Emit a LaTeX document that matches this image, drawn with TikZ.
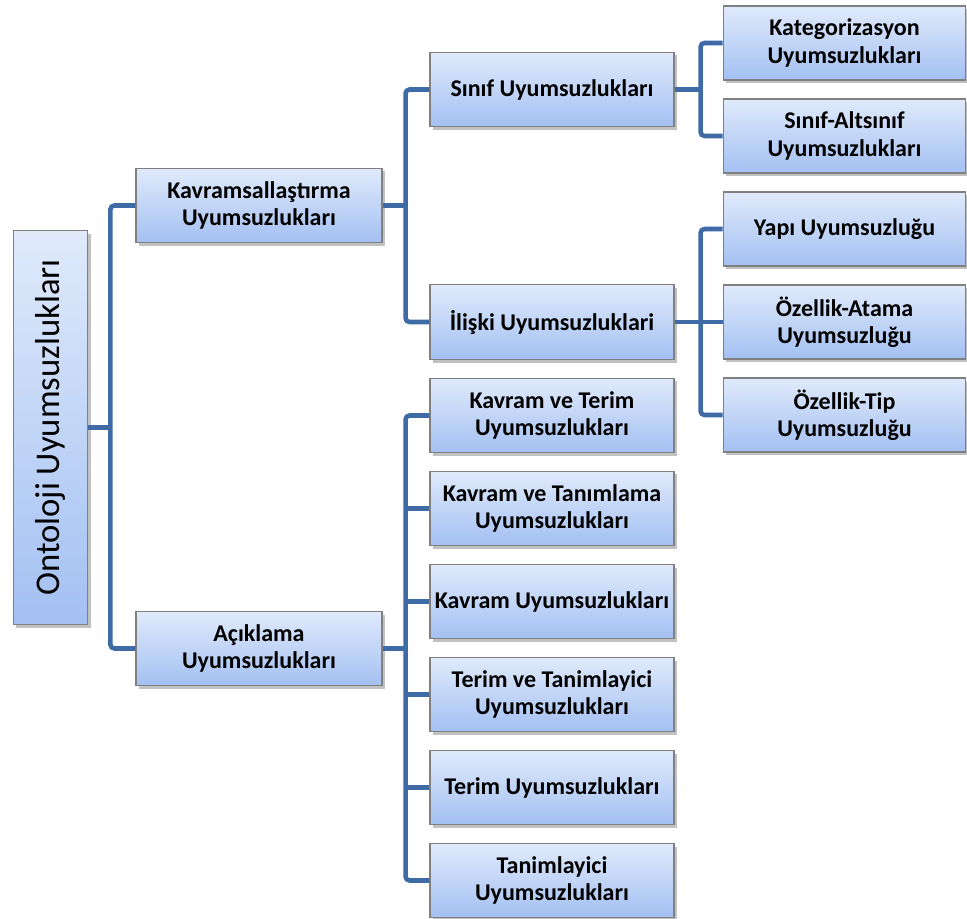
\documentclass[tikz,border=0pt]{standalone}
\usepackage{fontspec}
\setmainfont{Carlito}
\usetikzlibrary{shadows,calc}
\definecolor{conncol}{RGB}{62,106,166}
\definecolor{boxtop}{RGB}{224,234,251}
\definecolor{boxbot}{RGB}{163,192,242}
\definecolor{boxline}{RGB}{128,128,128}
\tikzset{
  box/.style={draw=boxline, line width=0.8pt, top color=boxtop, bottom color=boxbot,
    drop shadow={shadow xshift=2pt, shadow yshift=-2.5pt, opacity=0.35, fill=black!70},
    align=center, inner sep=2pt,
    font=\fontsize{18}{20.5}\selectfont\bfseries},
  lvone/.style={box, minimum width=184.5pt, minimum height=56pt},
  lvtwo/.style={box, minimum width=183pt, minimum height=56pt},
  lvthree/.style={box, minimum width=182pt, minimum height=55.5pt},
  conn/.style={draw=conncol, line width=3.4pt, rounded corners=3pt},
}
\begin{document}
\begin{tikzpicture}[x=0.75pt, y=-0.75pt]
\useasboundingbox (0,0) rectangle (967,919);
% root
\node[box, minimum width=56pt, minimum height=295pt, font=\fontsize{26}{30}\selectfont] (root) at (50.5,427.5) {\rotatebox{90}{Ontoloji Uyumsuzlukları}};
% level 1
\node[lvone] (kav) at (259,205.5) {Kavramsallaştırma\\Uyumsuzlukları};
\node[lvone] (aci) at (259,648.5) {Açıklama\\Uyumsuzlukları};
% level 2
\node[lvtwo] (sin) at (552,89.5) {Sınıf Uyumsuzlukları};
\node[lvtwo] (ili) at (552,322) {İlişki Uyumsuzluklari};
\node[lvtwo] (kvt) at (552,415.5) {Kavram ve Terim\\Uyumsuzlukları};
\node[lvtwo] (kvtan) at (552,508.5) {Kavram ve Tanımlama\\Uyumsuzlukları};
\node[lvtwo] (kvr) at (552,601.5) {Kavram Uyumsuzlukları};
\node[lvtwo] (tvt) at (552,694.5) {Terim ve Tanimlayici\\Uyumsuzlukları};
\node[lvtwo] (ter) at (552,787.5) {Terim Uyumsuzlukları};
\node[lvtwo] (tan) at (552,880.5) {Tanimlayici\\Uyumsuzlukları};
% level 3
\node[lvthree] (kat) at (844.5,43) {Kategorizasyon\\Uyumsuzlukları};
\node[lvthree] (sas) at (844.5,136) {Sınıf-Altsınıf\\Uyumsuzlukları};
\node[lvthree] (yap) at (844.5,229) {Yapı Uyumsuzluğu};
\node[lvthree] (oza) at (844.5,322) {Özellik-Atama\\Uyumsuzluğu};
\node[lvthree] (ozt) at (844.5,415) {Özellik-Tip\\Uyumsuzluğu};
% bus coordinates
\coordinate (b0) at ($(root.east)+(22,0)$);
\coordinate (b1) at ($(kav.east)+(23,0)$);
\coordinate (b2) at ($(aci.east)+(23,0)$);
\coordinate (b3) at ($(sin.east)+(26,0)$);
\coordinate (b4) at ($(ili.east)+(26,0)$);
% connectors
\draw[conn] (kav.west) -| (b0) |- (aci.west);
\draw[conn] (root.east) -- (b0);
\draw[conn] (sin.west) -| (b1) |- (ili.west);
\draw[conn] (kav.east) -- (b1);
\draw[conn] (kvt.west) -| (b2) |- (tan.west);
\draw[conn] (aci.east) -- (b2);
\draw[conn] (kvtan.west) -- (b2 |- kvtan.west);
\draw[conn] (kvr.west) -- (b2 |- kvr.west);
\draw[conn] (tvt.west) -- (b2 |- tvt.west);
\draw[conn] (ter.west) -- (b2 |- ter.west);
\draw[conn] (kat.west) -| (b3) |- (sas.west);
\draw[conn] (sin.east) -- (b3);
\draw[conn] (yap.west) -| (b4) |- (ozt.west);
\draw[conn] (ili.east) -- (b4);
\draw[conn] (oza.west) -- (b4 |- oza.west);
\end{tikzpicture}
\end{document}
